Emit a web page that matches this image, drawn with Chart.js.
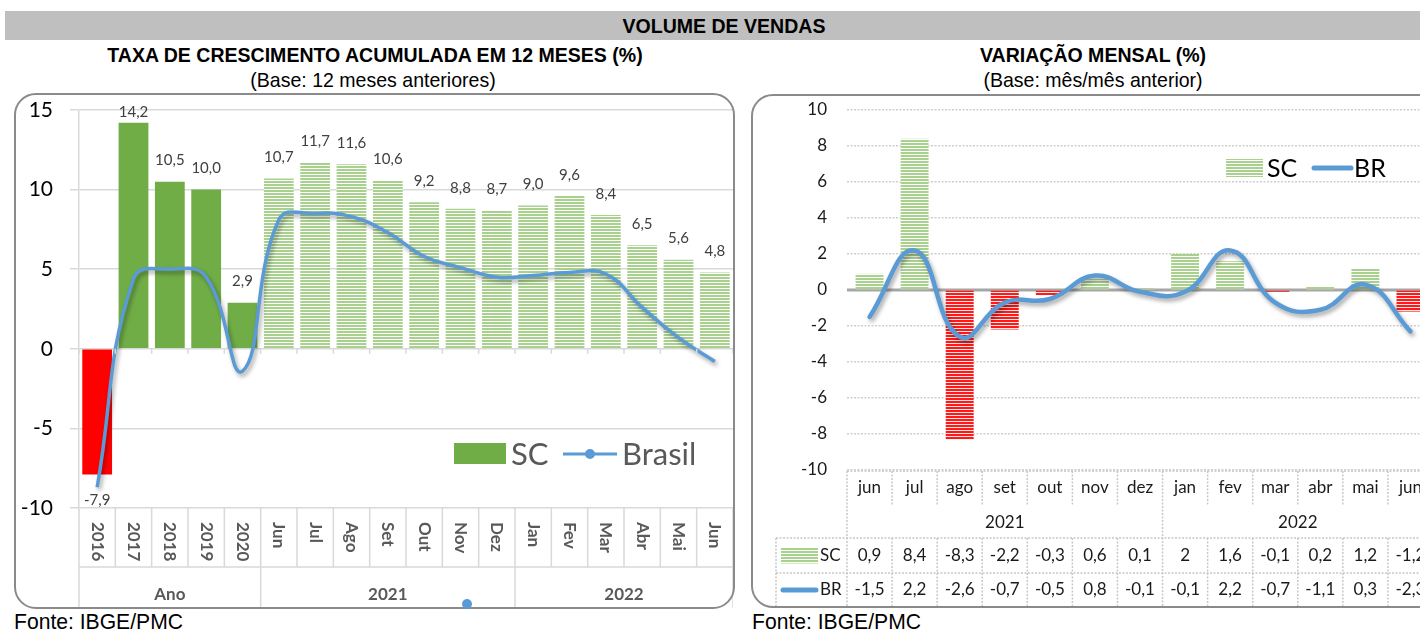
<!DOCTYPE html>
<html>
<head>
<meta charset="utf-8">
<script src="https://cdn.jsdelivr.net/npm/chart.js@4.4.1/dist/chart.umd.min.js"></script>
<style>
  html, body { margin: 0; padding: 0; background: #fff; }
  body { width: 1420px; height: 633px; position: relative; overflow: hidden;
         font-family: "Liberation Sans Narrow", "Liberation Sans", Arial, sans-serif; }
  .abs { position: absolute; }
  .banner { left: 5px; top: 11px; width: 1415px; height: 29px; background: #bfbfbf; }
  .txt { transform: scaleX(0.93); transform-origin: center; white-space: nowrap; }
  .banner-txt { left: 0; top: 11px; width: 1448px; height: 29px; line-height: 30px;
                text-align: center; font-weight: bold; font-size: 21px; color: #000; }
  .tit { font-weight: bold; font-size: 21px; color: #000; text-align: center; }
  .sub { font-size: 21px; color: #000; text-align: center; }
  .box { border: 2px solid #8a8a8a; border-radius: 22px; box-sizing: border-box; pointer-events: none; }
  .fonte { font-size: 22px; color: #000; transform: scaleX(0.96); transform-origin: left; }
</style>
</head>
<body>
<div class="abs banner"></div>
<div class="abs banner-txt txt">VOLUME DE VENDAS</div>

<div class="abs tit txt" style="left:0;top:43px;width:750px;">TAXA DE CRESCIMENTO ACUMULADA EM 12 MESES (%)</div>
<div class="abs sub txt" style="left:0;top:68px;width:746px;">(Base: 12 meses anteriores)</div>
<div class="abs tit txt" style="left:766px;top:43px;width:654px;">VARIAÇÃO MENSAL (%)</div>
<div class="abs sub txt" style="left:766px;top:68px;width:654px;">(Base: mês/mês anterior)</div>

<div class="abs" style="left:15px;top:94px;width:718px;height:514px;"><canvas id="chartAcumulado"></canvas></div>
<div class="abs box" style="left:14px;top:93px;width:721px;height:516px;"></div>

<div class="abs" style="left:752px;top:95px;width:690px;height:512px;"><canvas id="chartMensal"></canvas></div>
<div class="abs box" style="left:751px;top:94px;width:740px;height:514px;"></div>

<div class="abs" style="left:462px;top:599px;width:10px;height:10px;border-radius:5px;background:#5b9bd5;"></div>

<div class="abs fonte" style="left:14px;top:609px;">Fonte: IBGE/PMC</div>
<div class="abs fonte" style="left:752px;top:609px;">Fonte: IBGE/PMC</div>

<script>
// ---- dados: taxa acumulada em 12 meses ----
const catAcum = ['2016', '2017', '2018', '2019', '2020', 'Jun', 'Jul', 'Ago', 'Set', 'Out', 'Nov', 'Dez',
                 'Jan', 'Fev', 'Mar', 'Abr', 'Mai', 'Jun'];
const gruposAcum = ['Ano', '2021', '2022'];
const tamGruposAcum = [5, 7, 6];
const scAcum = [-7.9, 14.2, 10.5, 10.0, 2.9, 10.7, 11.7, 11.6, 10.6, 9.2, 8.8, 8.7, 9.0, 9.6, 8.4, 6.5, 5.6, 4.8];
const brAcum = [-8.7, 4.4, 5.0, 4.5, -1.4, 8.1, 8.5, 8.3, 7.3, 5.8, 5.1, 4.5, 4.6, 4.8, 4.7, 2.6, 0.7, -0.8];
const ticksAcum = [-10, -5, 0, 5, 10, 15];

// ---- dados: variação mensal ----
const catMensal = ['jun', 'jul', 'ago', 'set', 'out', 'nov', 'dez', 'jan', 'fev', 'mar', 'abr', 'mai', 'jun'];
const gruposMensal = ['2021', '2022'];
const tamGruposMensal = [7, 6];
const scMensal = [0.9, 8.4, -8.3, -2.2, -0.3, 0.6, 0.1, 2, 1.6, -0.1, 0.2, 1.2, -1.2];
const brMensal = [-1.5, 2.2, -2.6, -0.7, -0.5, 0.8, -0.1, -0.1, 2.2, -0.7, -1.1, 0.3, -2.3];
const ticksMensal = [-10, -8, -6, -4, -2, 0, 2, 4, 6, 8, 10];

const AZUL = '#5b9bd5';
const VERDE = '#70ad47';
const VERMELHO = '#ff0000';
const CINZA_TXT = '#595959';

Chart.defaults.font.family = 'Lato, "Open Sans", sans-serif';
Chart.defaults.animation = false;

function listras(cor, fundo) {
    const c = document.createElement('canvas');
    c.width = 4; c.height = 3;
    const g = c.getContext('2d');
    g.fillStyle = fundo; g.fillRect(0, 0, 4, 3);
    g.fillStyle = cor; g.fillRect(0, 0, 4, 2);
    return g.createPattern(c, 'repeat');
}
const listraVerde = listras('#a9d18e', '#ffffff');
const listraVermelha = listras('#ff1a1a', '#ffe8e8');

const fmt1 = v => v.toFixed(1).replace('.', ',');
const fmt = v => String(v).replace('.', ',');

// limites entre categorias
function limites(scale, n) {
    const passo = scale.getPixelForValue(1) - scale.getPixelForValue(0);
    const out = [];
    for (let k = 0; k <= n; k++) out.push(scale.getPixelForValue(0) - passo / 2 + k * passo);
    return out;
}
function inicioGrupos(tams) {
    const s = new Set([0]);
    let acc = 0;
    tams.forEach(t => { acc += t; s.add(acc); });
    return s;
}

// sombra da linha
const sombraLinha = {
    id: 'sombraLinha',
    beforeDatasetDraw(chart, args) {
        if (chart.data.datasets[args.index].type !== 'line') return;
        const c = chart.ctx;
        c.save();
        c.shadowColor = 'rgba(0,0,0,0.35)';
        c.shadowBlur = 4;
        c.shadowOffsetX = 2;
        c.shadowOffsetY = 3;
    },
    afterDatasetDraw(chart, args) {
        if (chart.data.datasets[args.index].type !== 'line') return;
        chart.ctx.restore();
    }
};

// ================= gráfico da esquerda =================
const rotulosAcum = {
    id: 'rotulosAcum',
    afterDatasetsDraw(chart) {
        const { ctx: c, chartArea } = chart;
        const meta = chart.getDatasetMeta(1);
        c.save();
        c.font = '15px Lato';
        c.fillStyle = '#404040';
        c.textAlign = 'center';
        c.textBaseline = 'middle';
        meta.data.forEach((bar, i) => {
            const v = scAcum[i];
            let y = v >= 0 ? bar.y - 21 : bar.y + 26;
            y = Math.max(y, chartArea.top + 2);
            c.fillText(fmt1(v), bar.x, y);
        });
        c.restore();
    },
    afterDraw(chart) {
        const { ctx: c, chartArea: { left, right, bottom }, scales: { x, y } } = chart;
        const lim = limites(x, catAcum.length);
        const grp = inicioGrupos(tamGruposAcum);
        c.save();
        c.strokeStyle = '#d9d9d9';
        c.lineWidth = 1.5;
        lim.forEach((px, k) => {
            c.beginPath();
            c.moveTo(px, bottom);
            c.lineTo(px, bottom + (grp.has(k) ? 100 : 59));
            c.stroke();
        });
        c.beginPath();
        c.moveTo(left, bottom + 59); c.lineTo(right, bottom + 59);
        c.stroke();
        // pequenos traços no eixo zero
        const y0 = y.getPixelForValue(0);
        lim.forEach(px => { c.beginPath(); c.moveTo(px, y0); c.lineTo(px, y0 + 5); c.stroke(); });

        // rótulos rotacionados
        c.fillStyle = CINZA_TXT;
        c.font = 'bold 17px Lato';
        c.textAlign = 'left';
        c.textBaseline = 'middle';
        catAcum.forEach((lab, i) => {
            c.save();
            c.translate(x.getPixelForValue(i), bottom + 14);
            c.rotate(Math.PI / 2);
            c.fillText(lab, 0, 0);
            c.restore();
        });
        // grupos
        c.textAlign = 'center';
        let ini = 0;
        gruposAcum.forEach((g, j) => {
            const fim = ini + tamGruposAcum[j];
            c.fillText(g, (lim[ini] + lim[fim]) / 2, bottom + 87);
            ini = fim;
        });

        // legenda
        const ly = bottom - 54;
        c.fillStyle = VERDE;
        c.fillRect(right - 279, ly - 11, 52, 21);
        c.fillStyle = CINZA_TXT;
        c.font = '31px Lato';
        c.textAlign = 'left';
        c.fillText('SC', right - 222, ly + 1);
        c.strokeStyle = AZUL;
        c.lineWidth = 3;
        c.beginPath(); c.moveTo(right - 170, ly); c.lineTo(right - 116, ly); c.stroke();
        c.fillStyle = AZUL;
        c.beginPath(); c.arc(right - 143, ly, 5, 0, Math.PI * 2); c.fill();
        c.fillStyle = CINZA_TXT;
        c.fillText('Brasil', right - 111, ly + 1);
        c.restore();
    }
};

new Chart(document.getElementById('chartAcumulado'), {
    data: {
        labels: catAcum,
        datasets: [
            {
                type: 'line',
                label: 'Brasil',
                data: brAcum,
                borderColor: AZUL,
                borderWidth: 3.5,
                tension: 0.45,
                pointRadius: 0,
                order: 1
            },
            {
                type: 'bar',
                label: 'SC',
                data: scAcum,
                backgroundColor: ctx => ctx.dataIndex < tamGruposAcum[0]
                    ? (scAcum[ctx.dataIndex] < 0 ? VERMELHO : VERDE)
                    : listraVerde,
                barPercentage: 0.82,
                categoryPercentage: 1,
                order: 2
            }
        ]
    },
    options: {
        responsive: true,
        maintainAspectRatio: false,
        layout: { padding: { top: 16, right: 0, left: 0, bottom: 0 } },
        plugins: { legend: { display: false }, tooltip: { enabled: false } },
        scales: {
            x: {
                offset: true,
                grid: { display: false },
                border: { display: false },
                ticks: { display: false },
                afterFit: s => { s.height = 100; }
            },
            y: {
                min: -10, max: 15,
                afterBuildTicks: s => { s.ticks = ticksAcum.map(v => ({ value: v })); },
                afterFit: s => { s.width = 64; s.paddingTop = 0; s.paddingBottom = 0; },
                grid: { color: '#d9d9d9', lineWidth: 1.5, tickLength: 9 },
                border: { color: '#d9d9d9', width: 1.5 },
                ticks: { color: '#000', font: { size: 21 }, padding: 17 }
            }
        }
    },
    plugins: [rotulosAcum, sombraLinha]
});

// ================= gráfico da direita =================
const tabelaMensal = {
    id: 'tabelaMensal',
    beforeDatasetsDraw(chart) {
        const { ctx: c, chartArea: { left, right }, scales: { y } } = chart;
        const y0 = y.getPixelForValue(0);
        c.save();
        c.strokeStyle = '#a6a6a6';
        c.lineWidth = 3;
        c.beginPath(); c.moveTo(left, y0); c.lineTo(right, y0); c.stroke();
        c.restore();
    },
    afterDraw(chart) {
        const { ctx: c, chartArea: { left, right, bottom }, scales: { x } } = chart;
        const lim = limites(x, catMensal.length);
        const grp = inicioGrupos(tamGruposMensal);
        const r1 = bottom + 1, r2 = bottom + 35, r3 = bottom + 68, r4 = bottom + 103, r5 = bottom + 137;
        const tabLeft = left - 71;
        c.save();
        c.strokeStyle = '#c8c8c8';
        c.lineWidth = 1.5;
        c.setLineDash([2, 1.5]);
        const linha = (x1, y1, x2, y2) => { c.beginPath(); c.moveTo(x1, y1); c.lineTo(x2, y2); c.stroke(); };
        linha(left, r1, right + 20, r1);
        linha(tabLeft, r3, right + 20, r3);
        linha(tabLeft, r4, right + 20, r4);
        linha(tabLeft, r3, tabLeft, r5);
        lim.forEach((px, k) => {
            if (grp.has(k)) linha(px, r1, px, r5);
            else { linha(px, r1, px, r2); linha(px, r3, px, r5); }
        });
        c.setLineDash([]);

        c.fillStyle = '#1a1a1a';
        c.font = '17px Lato';
        c.textAlign = 'center';
        c.textBaseline = 'middle';
        catMensal.forEach((lab, i) => {
            const px = x.getPixelForValue(i);
            c.fillText(lab, px, (r1 + r2) / 2);
            c.fillText(fmt(scMensal[i]), px, (r3 + r4) / 2);
            c.fillText(fmt(brMensal[i]), px, (r4 + r5) / 2);
        });
        let ini = 0;
        gruposMensal.forEach((g, j) => {
            const fim = ini + tamGruposMensal[j];
            c.fillText(g, (lim[ini] + lim[fim]) / 2, (r2 + r3) / 2 + 1);
            ini = fim;
        });
        // chaves da tabela
        c.fillStyle = listraVerde;
        c.fillRect(tabLeft + 5, (r3 + r4) / 2 - 8, 37, 16);
        c.strokeStyle = AZUL;
        c.lineWidth = 5;
        c.lineCap = 'round';
        linha(tabLeft + 7, (r4 + r5) / 2, tabLeft + 40, (r4 + r5) / 2);
        c.fillStyle = '#1a1a1a';
        c.textAlign = 'left';
        c.fillText('SC', tabLeft + 44, (r3 + r4) / 2);
        c.fillText('BR', tabLeft + 44, (r4 + r5) / 2);

        // legenda
        const { top } = chart.chartArea;
        const ly = top + 58;
        c.fillStyle = listraVerde;
        c.fillRect(left + 379, ly - 9, 37, 18);
        c.fillStyle = '#000';
        c.font = '25px Lato';
        c.fillText('SC', left + 420, ly + 1);
        linha(left + 467, ly, left + 504, ly);
        c.fillText('BR', left + 507, ly + 1);
        c.restore();
    }
};

new Chart(document.getElementById('chartMensal'), {
    data: {
        labels: catMensal,
        datasets: [
            {
                type: 'line',
                label: 'BR',
                data: brMensal,
                borderColor: AZUL,
                borderWidth: 4.5,
                tension: 0.45,
                pointRadius: 0,
                borderCapStyle: 'round',
                order: 1
            },
            {
                type: 'bar',
                label: 'SC',
                data: scMensal,
                backgroundColor: ctx => scMensal[ctx.dataIndex] < 0 ? listraVermelha : listraVerde,
                barPercentage: 0.62,
                categoryPercentage: 1,
                order: 2
            }
        ]
    },
    options: {
        responsive: true,
        maintainAspectRatio: false,
        layout: { padding: { top: 15, right: 9, left: 0, bottom: 0 } },
        plugins: { legend: { display: false }, tooltip: { enabled: false } },
        scales: {
            x: {
                offset: true,
                grid: { display: false },
                border: { display: false },
                ticks: { display: false },
                afterFit: s => { s.height = 137; }
            },
            y: {
                min: -10, max: 10,
                afterBuildTicks: s => { s.ticks = ticksMensal.map(v => ({ value: v })); },
                afterFit: s => { s.width = 95; s.paddingTop = 0; s.paddingBottom = 0; },
                grid: {
                    color: ctx => ctx.tick && ctx.tick.value === 0 ? 'rgba(0,0,0,0)' : '#cfcfcf',
                    lineWidth: 1.5,
                    drawTicks: false
                },
                border: { display: false, dash: [2, 1.5] },
                ticks: { color: '#1a1a1a', font: { size: 17 }, padding: 20 }
            }
        }
    },
    plugins: [tabelaMensal, sombraLinha]
});
</script>
</body>
</html>
